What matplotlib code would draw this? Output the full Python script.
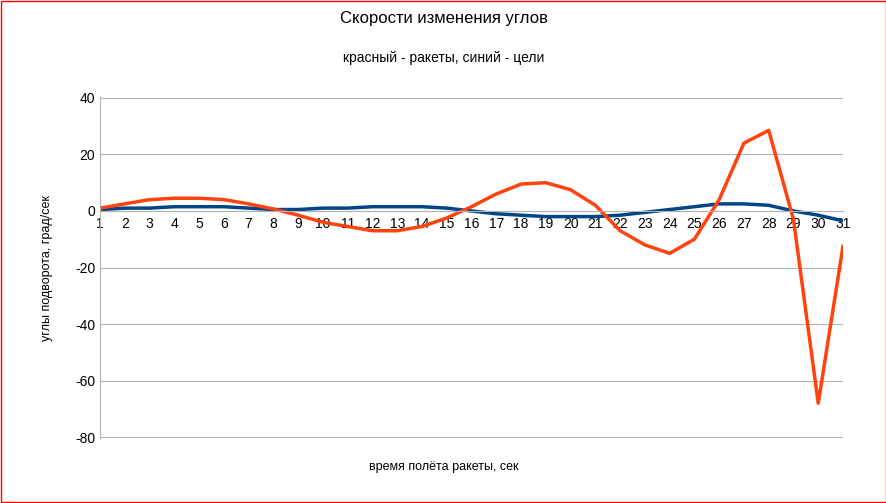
import matplotlib
matplotlib.use("Agg")
import matplotlib.pyplot as plt
from matplotlib.patches import Rectangle

plt.rcParams["axes.unicode_minus"] = False
plt.rcParams["font.family"] = "Liberation Sans"

seconds = list(range(1, 32))
rocket = [1, 2.5, 4, 4.5, 4.5, 4, 2.5, 0.7, -1.5, -4, -5.5, -7, -7, -5.5, -2.5, 1.5,
          6, 9.5, 10, 7.5, 2, -7, -12, -15, -10, 4, 24, 28.5, -3, -68, -12.5]
target = [0.5, 1, 1, 1.5, 1.5, 1.5, 1, 0.5, 0.5, 1, 1, 1.5, 1.5, 1.5, 1, 0,
          -1, -1.5, -2, -2, -2, -1.5, -0.5, 0.5, 1.5, 2.5, 2.5, 2, 0, -1.5, -3.5]
y_ticks = [40, 20, 0, -20, -40, -60, -80]

fig = plt.figure(figsize=(8.87, 5.03), dpi=100)
ax = fig.add_axes([100 / 887, 1 - 438 / 503, 743 / 887, 341 / 503])

ax.plot(seconds, target, color="#004586", linewidth=2.5)
ax.plot(seconds, rocket, color="#ff420e", linewidth=2.5)

ax.set_xlim(1, 31)
ax.set_ylim(-80.3, 40.3)
ax.set_yticks(y_ticks)
ax.set_xticks(seconds)
ax.grid(axis="y", color="#b3b3b3", linewidth=0.8)
ax.set_axisbelow(True)
for s in ["top", "right"]:
    ax.spines[s].set_visible(False)
ax.spines["left"].set_color("#b3b3b3")
ax.spines["bottom"].set_position(("data", 0))
ax.spines["bottom"].set_color("#b3b3b3")
ax.tick_params(axis="both", length=0, labelsize=10)
ax.tick_params(axis="x", pad=4)

fig.text(0.5, 1 - 18 / 503, "Скорости изменения углов", ha="center", va="center", fontsize=12)
fig.text(0.5, 1 - 58 / 503, "красный - ракеты, синий - цели", ha="center", va="center", fontsize=10)
fig.text(0.5, 1 - 467 / 503, "время полёта ракеты, сек", ha="center", va="center", fontsize=9)
fig.text(47 / 887, 1 - 268 / 503, "углы подворота, град/сек", ha="center", va="center",
         rotation=90, fontsize=9)

fig.patches.append(Rectangle((0.001, 0.001), 0.998, 0.997, transform=fig.transFigure,
                             fill=False, edgecolor="red", linewidth=1))

fig.savefig("out.png", dpi=100)
